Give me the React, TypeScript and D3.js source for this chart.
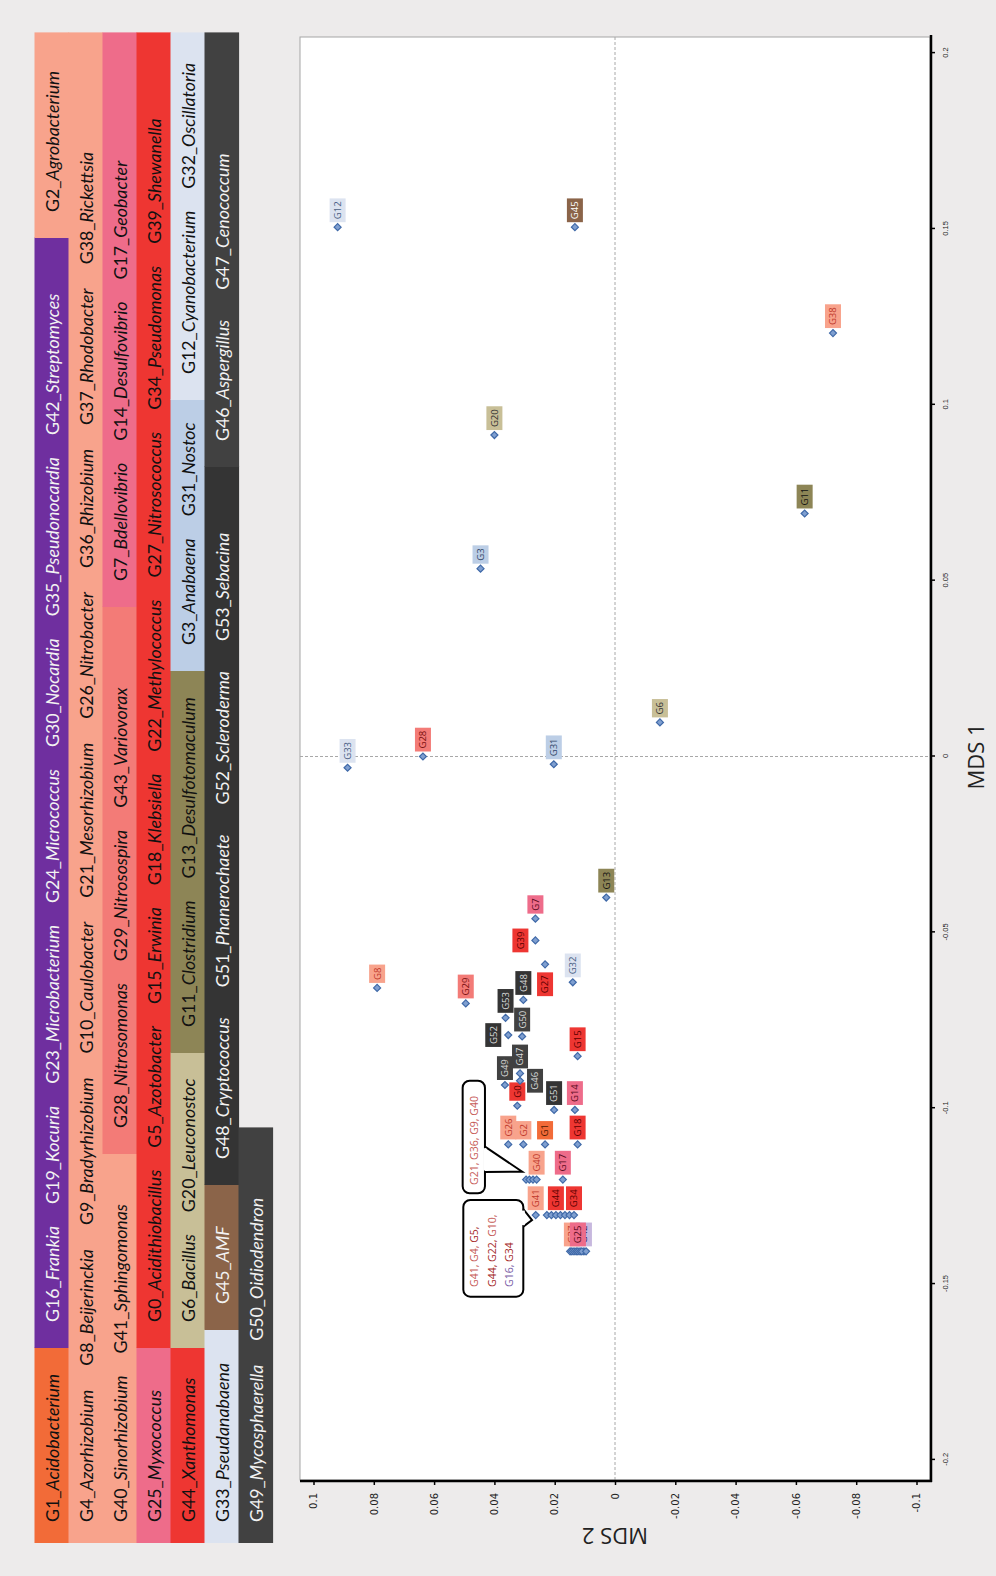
import React, { useRef, useEffect } from 'react';
import * as d3 from 'd3';

// legend table, one entry per row: [group, genera]
const legendRows: [string, string[]][][] = [
  [['acido', ['G1_Acidobacterium']],
   ['actino', ['G16_Frankia', 'G19_Kocuria', 'G23_Microbacterium', 'G24_Micrococcus', 'G30_Nocardia', 'G35_Pseudonocardia', 'G42_Streptomyces']],
   ['alpha', ['G2_Agrobacterium']]],
  [['alpha', ['G4_Azorhizobium', 'G8_Beijerinckia', 'G9_Bradyrhizobium', 'G10_Caulobacter', 'G21_Mesorhizobium', 'G26_Nitrobacter', 'G36_Rhizobium', 'G37_Rhodobacter', 'G38_Rickettsia']]],
  [['alpha', ['G40_Sinorhizobium', 'G41_Sphingomonas']],
   ['beta', ['G28_Nitrosomonas', 'G29_Nitrosospira', 'G43_Variovorax']],
   ['delta', ['G7_Bdellovibrio', 'G14_Desulfovibrio', 'G17_Geobacter']]],
  [['delta', ['G25_Myxococcus']],
   ['gamma', ['G0_Acidithiobacillus', 'G5_Azotobacter', 'G15_Erwinia', 'G18_Klebsiella', 'G22_Methylococcus', 'G27_Nitrosococcus', 'G34_Pseudomonas', 'G39_Shewanella']]],
  [['gamma', ['G44_Xanthomonas']],
   ['bacilli', ['G6_Bacillus', 'G20_Leuconostoc']],
   ['clost', ['G11_Clostridium', 'G13_Desulfotomaculum']],
   ['cyanoA', ['G3_Anabaena', 'G31_Nostoc']],
   ['cyanoB', ['G12_Cyanobacterium', 'G32_Oscillatoria']]],
  [['cyanoB', ['G33_Pseudanabaena']],
   ['amf', ['G45_AMF']],
   ['fungi', ['G48_Cryptococcus', 'G51_Phanerochaete', 'G52_Scleroderma', 'G53_Sebacina']],
   ['fungi2', ['G46_Aspergillus', 'G47_Cenococcum']]],
  [['fungi2', ['G49_Mycosphaerella', 'G50_Oidiodendron']]],
];

// MDS scores
const pointIds = ['G12', 'G45', 'G38', 'G20', 'G11', 'G3', 'G6', 'G33', 'G28', 'G31',
  'G13', 'G7', 'G39', 'G8', 'G27', 'G32', 'G29', 'G48', 'G53', 'G52',
  'G50', 'G15', 'G47', 'G46', 'G49', 'G0', 'G51', 'G14', 'G26', 'G2',
  'G1', 'G18', 'G21', 'G36', 'G9', 'G40', 'G17', 'G41', 'G4', 'G5',
  'G44', 'G22', 'G10', 'G16', 'G34', 'G43', 'G37', 'G24', 'G42', 'G19',
  'G25', 'G23', 'G30', 'G35'];
const mds1 = [0.1505, 0.1505, 0.1204, 0.0914, 0.0691, 0.0534, 0.0097, -0.0032, 0.0, -0.0022,
  -0.0401, -0.0461, -0.0523, -0.0658, -0.0591, -0.0642, -0.0702, -0.0692, -0.0743, -0.0792,
  -0.0796, -0.0852, -0.0901, -0.0922, -0.0934, -0.0993, -0.1005, -0.1005, -0.1103, -0.1103,
  -0.1103, -0.1103, -0.1203, -0.1203, -0.1203, -0.1203, -0.1203, -0.1304, -0.1304, -0.1304,
  -0.1304, -0.1304, -0.1304, -0.1304, -0.1304, -0.1407, -0.1407, -0.1407, -0.1407, -0.1407,
  -0.1407, -0.1407, -0.1407, -0.1407];
const mds2 = [0.0920, 0.0133, -0.0723, 0.0400, -0.0629, 0.0446, -0.0149, 0.0887, 0.0637, 0.0203,
  0.0029, 0.0264, 0.0264, 0.0789, 0.0232, 0.0140, 0.0495, 0.0304, 0.0363, 0.0354,
  0.0308, 0.0124, 0.0315, 0.0315, 0.0365, 0.0324, 0.0202, 0.0133, 0.0354, 0.0304,
  0.0232, 0.0124, 0.0295, 0.0284, 0.0272, 0.0260, 0.0173, 0.0263, 0.0226, 0.0211,
  0.0196, 0.0181, 0.0166, 0.0151, 0.0136, 0.0149, 0.0143, 0.0136, 0.0103, 0.0129,
  0.0123, 0.0116, 0.0110, 0.0096];

const mds1Ticks = [-0.2, -0.15, -0.1, -0.05, 0, 0.05, 0.1, 0.15, 0.2];
const mds2Ticks = [0.1, 0.08, 0.06, 0.04, 0.02, 0, -0.02, -0.04, -0.06, -0.08, -0.1];

// points whose label is not shown and the grouped callouts
const unlabeled = ['G21', 'G36', 'G9', 'G4', 'G5', 'G22', 'G10', 'G16', 'G43', 'G24', 'G19', 'G23', 'G30', 'G35'];
const calloutA = [['G21', 'G36', 'G9', 'G40']];
const calloutB = [['G41', 'G4', 'G5'], ['G44', 'G22', 'G10'], ['G16', 'G34']];

const groupColors: Record<string, string> = {
  acido: '#f26b38', actino: '#6f2f9f', alpha: '#f8a38c', beta: '#f37b77', delta: '#ee6c8a',
  gamma: '#ee3632', bacilli: '#c8bf97', clost: '#8d8556', cyanoA: '#bccee6', cyanoB: '#dce3f0',
  amf: '#8b6449', fungi: '#343434', fungi2: '#414141',
};
const labelInk: Record<string, string> = {
  acido: '#4a1800', actino: '#3a1a5a', alpha: '#c0392b', beta: '#7a1010', delta: '#5a0a20',
  gamma: '#5a0000', bacilli: '#333', clost: '#111', cyanoA: '#34486a', cyanoB: '#4a5f85',
  amf: '#fff', fungi: '#d8d8d8', fungi2: '#d8d8d8',
};
const calloutInk: Record<string, string> = { alpha: '#c65b57', gamma: '#a52a2a', actino: '#7b5ea7' };
const lightText = ['actino', 'amf', 'fungi', 'fungi2'];

// layout
const W = 996, H = 1576;
const legendBreaks = [[228, 1338, 1543], [1543], [422, 969, 1543], [228, 1543], [228, 523, 905, 1176, 1543], [246, 391, 1109, 1543], [448]];
const legendGaps = [22, 24, 22, 22, 22, 30, 24];
const labelSide: Record<string, string> = { G39: 'left', G27: 'below', G46: 'right', G52: 'left' };

const App = () => {
  const ref = useRef<SVGSVGElement>(null);

  useEffect(() => {
    const svg = d3.select(ref.current);
    svg.selectAll('*').remove();
    svg.append('rect').attr('width', W).attr('height', H).attr('fill', '#edebeb');

    // figure drawn upright, then turned a quarter to the left
    const g = svg.append('g').attr('transform', `translate(0,${H}) rotate(-90)`);

    const groupOf: Record<string, string> = {};
    legendRows.forEach(row => row.forEach(([grp, items]) => items.forEach(n => { groupOf[n.split('_')[0]] = grp; })));

    // legend
    const rowTop = 34.5, rowH = 34;
    legendRows.forEach((row, i) => {
      const y0 = rowTop + i * rowH;
      let x0 = 33;
      row.forEach(([grp, items], j) => {
        const x1 = legendBreaks[i][j];
        g.append('rect').attr('x', x0).attr('y', y0).attr('width', x1 - x0 + 0.6).attr('height', rowH + 0.6)
          .attr('fill', groupColors[grp]);
        let tx = x0 + (j === 0 ? 21 : 26);
        items.forEach(name => {
          const k = name.indexOf('_');
          const t = g.append('text').attr('x', tx).attr('y', y0 + 24.3)
            .attr('font-family', 'Lato, "Open Sans", sans-serif').attr('font-size', 17.8)
            .attr('fill', lightText.includes(grp) ? '#f2f2f2' : '#111');
          t.append('tspan').text(name.slice(0, k + 1));
          t.append('tspan').attr('font-style', 'italic').text(name.slice(k + 1));
          tx += (t.node() as SVGTextElement).getComputedTextLength() + legendGaps[i];
        });
        x0 = x1;
      });
    });

    // plot
    const x = d3.scaleLinear().domain([-0.2, 0.2]).range([H - 1459.9, H - 53.1]);
    const y = d3.scaleLinear().domain([0.1, -0.1]).range([313.5, 916.5]);
    const left = 96, right = 1539, top = 300, bottom = 930;

    g.append('rect').attr('x', left).attr('y', top).attr('width', right - left).attr('height', bottom - top)
      .attr('fill', '#fff').attr('stroke', '#a6a6a6').attr('stroke-width', 1);
    g.append('line').attr('x1', x(0)).attr('x2', x(0)).attr('y1', top).attr('y2', bottom)
      .attr('stroke', '#a8a8a8').attr('stroke-dasharray', '3,2');
    g.append('line').attr('x1', left).attr('x2', right).attr('y1', y(0)).attr('y2', y(0))
      .attr('stroke', '#a8a8a8').attr('stroke-dasharray', '3,2');

    const fmt = (d: number) => String(Math.round(d * 100) / 100);
    const ax1 = g.append('g').attr('transform', `translate(0,931)`)
      .call(d3.axisBottom(x).tickValues(mds1Ticks).tickSize(4).tickPadding(8).tickFormat(d => fmt(+d)));
    ax1.select('.domain').remove();
    ax1.selectAll('text').attr('font-family', '"Liberation Sans", Arial, sans-serif').attr('font-size', 7.5).attr('fill', '#222');
    const ax2 = g.append('g').attr('transform', `translate(95,0)`)
      .call(d3.axisLeft(y).tickValues(mds2Ticks).tickSize(4).tickPadding(8).tickFormat(d => fmt(+d)));
    ax2.select('.domain').remove();
    ax2.selectAll('text').attr('font-family', '"DejaVu Sans", sans-serif').attr('font-size', 10).attr('fill', '#222');
    g.selectAll('.tick line').attr('stroke', '#000').attr('stroke-width', 1.5);

    g.append('line').attr('x1', 94).attr('x2', 1541).attr('y1', 931).attr('y2', 931).attr('stroke', '#000').attr('stroke-width', 2.5);
    g.append('line').attr('x1', 95).attr('x2', 95).attr('y1', top).attr('y2', 932).attr('stroke', '#000').attr('stroke-width', 2.5);

    g.append('text').attr('x', x(0)).attr('y', 984).attr('text-anchor', 'middle')
      .attr('font-family', '"Open Sans", sans-serif').attr('font-size', 22).attr('fill', '#222').text('MDS 1');
    g.append('text').attr('transform', `translate(48,${y(0)}) rotate(-90)`).attr('text-anchor', 'middle')
      .attr('font-family', '"Open Sans", sans-serif').attr('font-size', 22).attr('fill', '#222').text('MDS 2');

    // data labels
    const pts = pointIds.map((id, i) => ({ id, px: x(mds1[i]), py: y(mds2[i]), grp: groupOf[id] }));
    pts.filter(p => !unlabeled.includes(p.id)).forEach(p => {
      const lg = g.append('g');
      const rect = lg.append('rect');
      const t = lg.append('text').attr('font-family', '"Open Sans", sans-serif').attr('font-size', 9.5)
        .attr('fill', labelInk[p.grp]).text(p.id);
      const w = (t.node() as SVGTextElement).getComputedTextLength() + 6, h = 16;
      const side = labelSide[p.id] || 'above';
      let bx = p.px + 5, by = p.py - 8;
      if (side === 'below') bx = p.px - 8 - w;
      if (side === 'left') { bx = p.px - w / 2; by = p.py - 7 - h; }
      if (side === 'right') { bx = p.px - w / 2; by = p.py + 7; }
      rect.attr('x', bx).attr('y', by).attr('width', w).attr('height', h)
        .attr('fill', p.grp === 'actino' ? '#b9a6d6' : groupColors[p.grp])
        .attr('opacity', p.grp === 'actino' ? 0.8 : 1);
      t.attr('x', bx + 3).attr('y', by + 11.4);
    });

    // points
    g.selectAll('.pt').data(pts).enter().append('path').attr('class', 'pt')
      .attr('transform', d => `translate(${d.px},${d.py})`)
      .attr('d', 'M0,-3.5L3.5,0L0,3.5L-3.5,0Z')
      .attr('fill', '#7f9fd0').attr('stroke', '#3f69a8').attr('stroke-width', 1.2);

    // callouts
    const callouts = [
      { lines: calloutA, target: 'G21', box: [-13.7, -63.4, 112.6, 22.3], tail: [[7.6, -41.1], [32.9, -41.1], [7.9, -3.8]], tx: -5.4, ty: [-48.1] },
      { lines: calloutB, target: 'G41', box: [-81.6, -72.4, 96.7, 60], tail: [[-11.5, -12.4], [6, -12.4], [-4.9, -3.7]], tx: -71.9, ty: [-57.7, -39.7, -22.7] },
    ];
    callouts.forEach(c => {
      const p = pts.find(d => d.id === c.target)!;
      const cg = g.append('g').attr('transform', `translate(${p.px},${p.py})`);
      const [bx, by, bw, bh] = c.box;
      cg.append('rect').attr('x', bx).attr('y', by).attr('width', bw).attr('height', bh).attr('rx', 7)
        .attr('fill', '#fff').attr('stroke', '#000').attr('stroke-width', 2);
      const [b1, b2, tip] = c.tail;
      cg.append('path').attr('d', `M${b1[0]},${b1[1]}L${tip[0]},${tip[1]}L${b2[0]},${b2[1]}`)
        .attr('fill', '#fff').attr('stroke', '#000').attr('stroke-width', 2).attr('stroke-linejoin', 'miter');
      cg.append('line').attr('x1', Math.min(b1[0], b2[0]) + 1.5).attr('x2', Math.max(b1[0], b2[0]) - 1.5)
        .attr('y1', b1[1]).attr('y2', b1[1]).attr('stroke', '#fff').attr('stroke-width', 3);
      c.lines.forEach((line, li) => {
        const t = cg.append('text').attr('x', c.tx).attr('y', c.ty[li])
          .attr('font-family', '"Open Sans", sans-serif').attr('font-size', 10.5);
        line.forEach((id, k) => {
          const last = k === line.length - 1 && li === c.lines.length - 1;
          t.append('tspan').attr('fill', calloutInk[groupOf[id]] || '#c65b57').text(id + (last ? '' : ', '));
        });
      });
    });
  }, []);

  return <svg ref={ref} width={W} height={H} style={{ position: 'absolute', left: 0, top: 0, display: 'block' }} />;
};

export default App;
